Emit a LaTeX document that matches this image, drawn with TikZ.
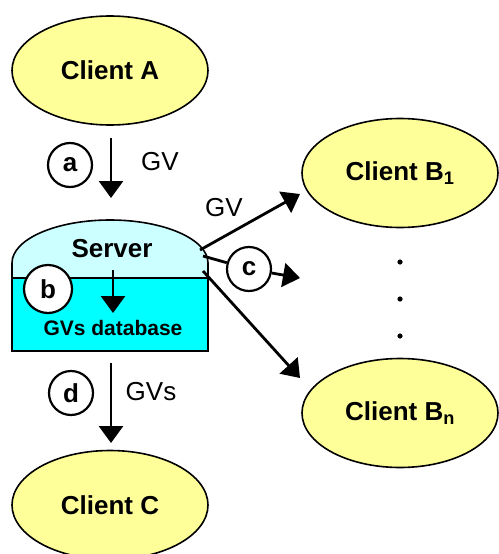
\documentclass[tikz,border=0pt]{standalone}
\usepackage{fontspec}
\setmainfont{Liberation Sans}
\usetikzlibrary{arrows.meta,shapes.geometric}
\definecolor{cliyel}{HTML}{FFFF99}
\definecolor{srvlight}{HTML}{CCFFFF}
\definecolor{srvcyan}{HTML}{00FFFF}
\tikzset{
  client/.style={ellipse, draw=black, line width=1.6pt, fill=cliyel,
    minimum width=196pt, minimum height=109pt, inner sep=0pt,
    font=\fontsize{26}{30}\selectfont\bfseries},
  stepcirc/.style={circle, draw=black, line width=2.2pt, fill=white,
    minimum size=44pt, inner sep=0pt, font=\fontsize{26}{30}\selectfont\bfseries},
  arr/.style={line width=2.8pt, -{Triangle[width=24pt,length=17pt]}},
  plain/.style={line width=2.8pt},
  lbl/.style={font=\fontsize{26}{30}\selectfont, inner sep=0pt},
}
\begin{document}
\begin{tikzpicture}[x=1pt,y=-1pt]
\useasboundingbox (0,0) rectangle (498,554);
% clients
\node[client] (A) at (110,70.5) {Client A};
\node[client] (B1) at (400,173) {Client B\textsubscript{1}};
\node[client] (Bn) at (400,413) {Client B\textsubscript{n}};
\node[client] (C) at (110,505) {Client C};
% server
\fill[srvcyan] (12,278) rectangle (208,351);
\fill[srvlight] (12,278) -- (12,263) arc[start angle=180,end angle=0,x radius=98pt,y radius=43pt] -- (208,278) -- cycle;
\draw[line width=1.6pt] (12,351) -- (12,263) arc[start angle=180,end angle=0,x radius=98pt,y radius=43pt] -- (208,351) -- cycle;
\draw[line width=1.6pt] (12,278) -- (208,278);
\node[font=\fontsize{26}{30}\selectfont\bfseries, inner sep=0pt] (srv) at (112,249) {Server};
\node[font=\fontsize{21}{24}\selectfont\bfseries, inner sep=0pt] (db) at (113,328) {GVs database};
\coordinate (dbtop) at (113,270);
\coordinate (dbtip) at (113,313);
\draw[arr] (dbtop) -- (dbtip);
\node[stepcirc, minimum size=48pt] (b) at (48,289) {b};
% arrow a
\coordinate (atop) at (111,138);
\coordinate (abot) at (111,198);
\draw[arr] (atop) -- (abot);
\node[stepcirc] (a) at (70,165) {a};
\node[lbl] (gva) at (160,162) {GV};
% arrow d
\coordinate (dtop) at (111,363);
\coordinate (dbot) at (111,443);
\draw[arr] (dtop) -- (dbot);
\node[stepcirc] (d) at (71,393) {d};
\node[lbl] (gvd) at (151,392) {GVs};
% fan-out
\coordinate (s1) at (200,250);
\coordinate (s2) at (203,256);
\coordinate (s3) at (203,271);
\coordinate (t1) at (300,194);
\coordinate (t2) at (300,278);
\coordinate (t3) at (300,378);
\draw[arr] (s1) -- (t1);
\node[stepcirc] (c) at (249,269) {c};
\draw[plain] (s2) -- (c);
\draw[arr] (c) -- (t2);
\draw[arr] (s3) -- (t3);
\node[lbl] (gvb) at (224,208) {GV};
% dots
\fill (400,262) circle[radius=2.6pt];
\fill (400,299) circle[radius=2.6pt];
\fill (400,336) circle[radius=2.6pt];
\end{tikzpicture}
\end{document}
